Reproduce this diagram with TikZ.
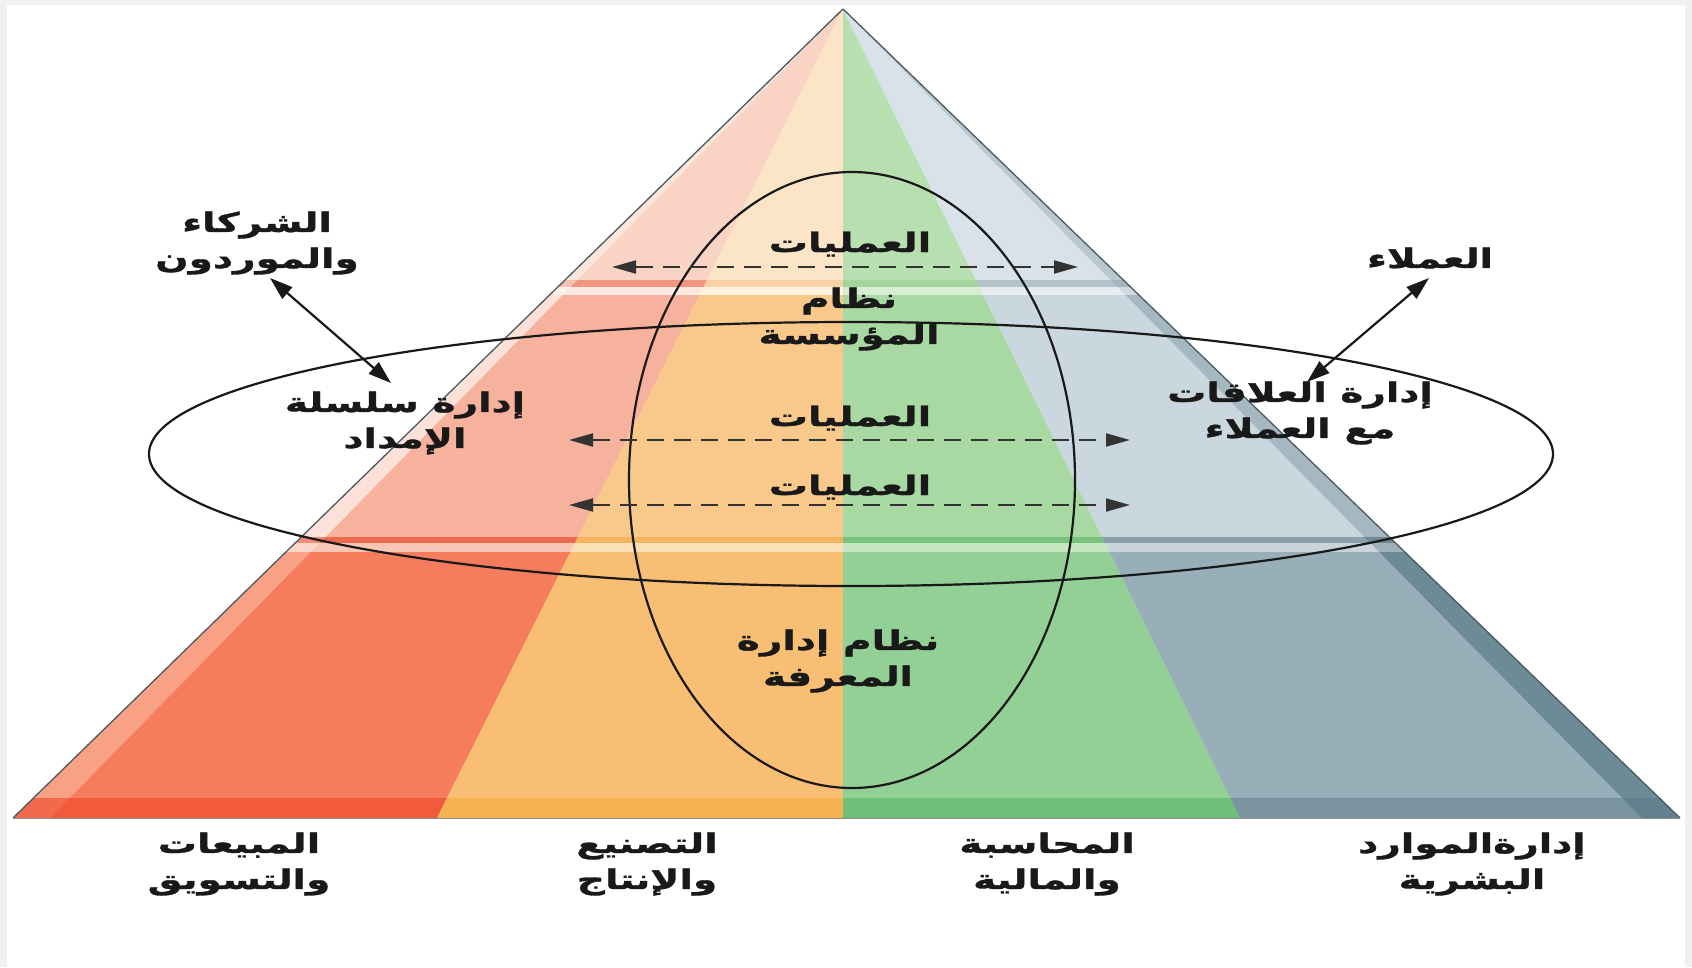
\documentclass[tikz,border=0pt]{standalone}
\usepackage{fontspec}
\usetikzlibrary{arrows.meta}
\newfontfamily\arabicfont[Script=Arabic, FakeStretch=1.45, BoldFeatures={FakeBold=1.2}]{DejaVu Sans}
\TeXXeTstate=1
% top tier
\definecolor{rT}{HTML}{F9D4C4}\definecolor{oT}{HTML}{FCE4C6}\definecolor{gT}{HTML}{B7DFB0}\definecolor{bT}{HTML}{D8E2E8}\definecolor{lT}{HTML}{FBE6DC}\definecolor{sT}{HTML}{B9C7CF}
% band 1
\definecolor{rX}{HTML}{F2957F}\definecolor{oX}{HTML}{F8D2A6}\definecolor{gX}{HTML}{A4D49D}\definecolor{bX}{HTML}{B4C3CB}\definecolor{lX}{HTML}{F6C2B2}\definecolor{sX}{HTML}{A3B5BE}
\definecolor{rY}{HTML}{FCEAE2}\definecolor{oY}{HTML}{FDF1E0}\definecolor{gY}{HTML}{D7EED2}\definecolor{bY}{HTML}{E6ECF0}\definecolor{lY}{HTML}{FDF1EC}\definecolor{sY}{HTML}{D0DBE0}
% middle tier
\definecolor{rM}{HTML}{F7B29E}\definecolor{oM}{HTML}{F9C98C}\definecolor{gM}{HTML}{A8D9A2}\definecolor{bM}{HTML}{CAD7DE}\definecolor{lM}{HTML}{FBE1D7}\definecolor{sM}{HTML}{A5B7C0}
% band 2
\definecolor{rU}{HTML}{EB6B50}\definecolor{oU}{HTML}{F4B35E}\definecolor{gU}{HTML}{79C380}\definecolor{bU}{HTML}{8AA0AC}\definecolor{lU}{HTML}{EE8C74}\definecolor{sU}{HTML}{6F8894}
\definecolor{rV}{HTML}{F9C5B5}\definecolor{oV}{HTML}{FCE0B5}\definecolor{gV}{HTML}{C5E6BF}\definecolor{bV}{HTML}{C8D4DA}\definecolor{lV}{HTML}{FBD6C9}\definecolor{sV}{HTML}{9FB2BC}
% bottom tier
\definecolor{rB}{HTML}{F57C5D}\definecolor{oB}{HTML}{F8BF74}\definecolor{gB}{HTML}{93D095}\definecolor{bB}{HTML}{98AEB9}\definecolor{lB}{HTML}{F8A184}\definecolor{sB}{HTML}{6D8A97}
% base strip
\definecolor{rS}{HTML}{F15A3B}\definecolor{oS}{HTML}{F5B352}\definecolor{gS}{HTML}{6EBF77}\definecolor{bS}{HTML}{7A94A0}\definecolor{lS}{HTML}{F26A4C}\definecolor{sS}{HTML}{62808D}
\definecolor{edge}{HTML}{4A5A62}
\newcommand\tierfill[8]{%
  \begin{scope}
    \clip (0,#1) rectangle (1692,#2);
    \fill[#3] (A)--(BL)--(B1)--cycle;
    \fill[#4] (A)--(B1)--(B2)--cycle;
    \fill[#5] (A)--(B2)--(B3)--cycle;
    \fill[#6] (A)--(B3)--(BR)--cycle;
    \fill[#7] (A)--(BL)--(LI)--cycle;
    \fill[#8] (A)--(BR)--(RI)--cycle;
  \end{scope}}
\begin{document}
\begin{tikzpicture}[x=1pt,y=-1pt,
  lbl/.style={font=\arabicfont\bfseries\fontsize{27}{36}\selectfont, align=center, inner sep=0pt, text=black!90},
  oval/.style={draw=black!90, line width=2.2pt},
  dasharrow/.style={draw=black!80, line width=2pt, dash pattern=on 17pt off 10pt, {Triangle[length=24pt,width=13pt]}-{Triangle[length=24pt,width=13pt]}},
  solidarrow/.style={draw=black!90, line width=2.2pt, {Triangle[length=23pt,width=15pt]}-{Triangle[length=23pt,width=15pt]}}
]
\useasboundingbox (0,0) rectangle (1692,967);
\fill[black!6] (0,0) rectangle (1692,967);
\fill[white] (7,5) rectangle (1685,967);

\coordinate (A) at (843,9);
\coordinate (BL) at (13,818);
\coordinate (B1) at (437,818);
\coordinate (B2) at (843,818);
\coordinate (B3) at (1240,818);
\coordinate (BR) at (1680,818);
\coordinate (LI) at (50,818);
\coordinate (RI) at (1642,818);

\tierfill{0}{280}{rT}{oT}{gT}{bT}{lT}{sT}
\tierfill{280}{287}{rX}{oX}{gX}{bX}{lX}{sX}
\tierfill{287}{295}{rY}{oY}{gY}{bY}{lY}{sY}
\tierfill{295}{537}{rM}{oM}{gM}{bM}{lM}{sM}
\tierfill{537}{543}{rU}{oU}{gU}{bU}{lU}{sU}
\tierfill{543}{552}{rV}{oV}{gV}{bV}{lV}{sV}
\tierfill{552}{798}{rB}{oB}{gB}{bB}{lB}{sB}
\tierfill{798}{818.5}{rS}{oS}{gS}{bS}{lS}{sS}

\draw[edge, line width=1.3pt, line join=round] (BL)--(A)--(BR);
\draw[black!45, line width=1pt] (BL)--(BR);

% ovals
\draw[oval] (851,454) ellipse [x radius=702pt, y radius=132pt];
\draw[oval] (852,480) ellipse [x radius=223pt, y radius=308pt];

% dashed arrows
\coordinate (d1l) at (612,267); \coordinate (d1r) at (1078,267);
\coordinate (d2l) at (569,440); \coordinate (d2r) at (1130,440);
\coordinate (d3l) at (569,505); \coordinate (d3r) at (1130,505);
\draw[dasharrow] (d1l) -- (d1r);
\draw[dasharrow] (d2l) -- (d2r);
\draw[dasharrow] (d3l) -- (d3r);

% labels
\node[lbl] (ops1) at (850,244) {\beginR العمليات\endR};
\node[lbl] (es) at (849,319) {\beginR نظام\endR\\\beginR المؤسسة\endR};
\node[lbl] (ops2) at (850,418) {\beginR العمليات\endR};
\node[lbl] (ops3) at (850,487) {\beginR العمليات\endR};
\node[lbl] (kms) at (838,661) {\beginR نظام إدارة\endR\\\beginR المعرفة\endR};
\node[lbl] (partners) at (257,243) {\beginR الشركاء\endR\\\beginR والموردون\endR};
\node[lbl] (scm) at (405,423) {\beginR إدارة سلسلة\endR\\\beginR الإمداد\endR};
\node[lbl] (cust) at (1430,258) {\beginR العملاء\endR};
\node[lbl] (crm) at (1300,413) {\beginR إدارة العلاقات\endR\\\beginR مع العملاء\endR};
\node[lbl] (sales) at (239,864) {\beginR المبيعات\endR\\\beginR والتسويق\endR};
\node[lbl] (mfg) at (647,864) {\beginR التصنيع\endR\\\beginR والإنتاج\endR};
\node[lbl] (acc) at (1047,864) {\beginR المحاسبة\endR\\\beginR والمالية\endR};
\node[lbl] (hr) at (1472,864) {\beginR إدارةالموارد\endR\\\beginR البشرية\endR};

% solid arrows
\coordinate (pa) at (270,278); \coordinate (pb) at (391,383);
\coordinate (ca) at (1429,278); \coordinate (cb) at (1307,382);
\draw[solidarrow] (pa) -- (pb);
\draw[solidarrow] (ca) -- (cb);
\end{tikzpicture}
\end{document}
